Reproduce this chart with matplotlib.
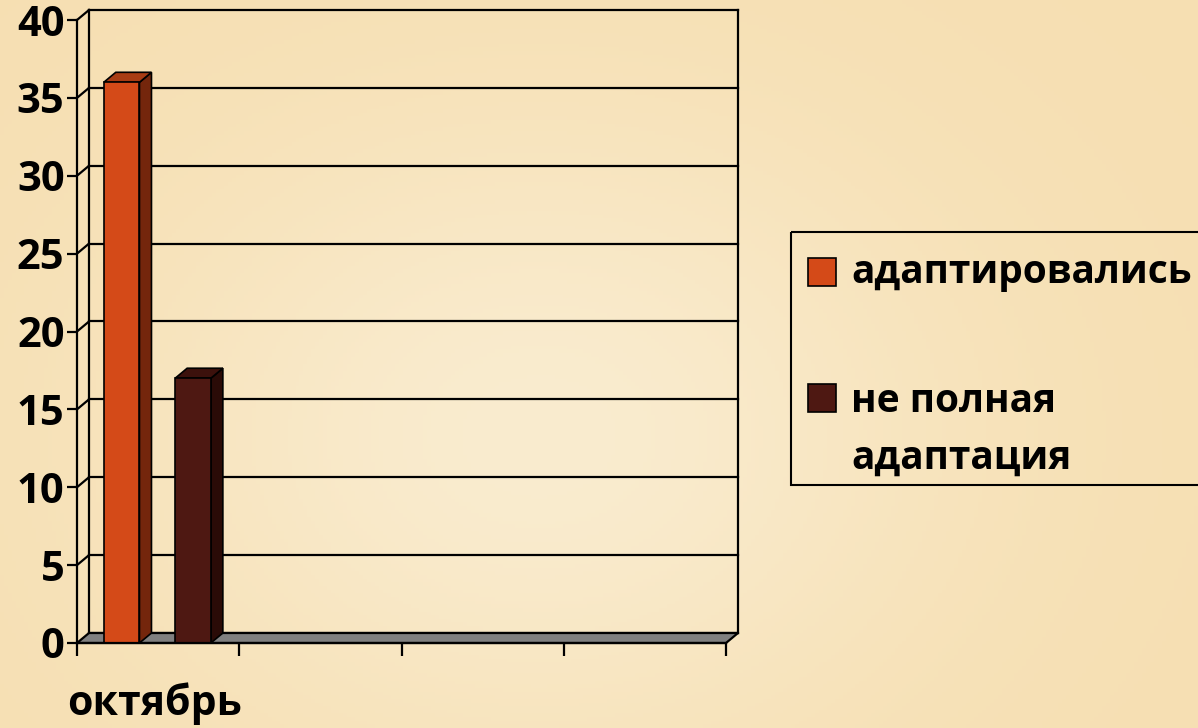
import numpy as np
import matplotlib
matplotlib.use("Agg")
import matplotlib.pyplot as plt
from matplotlib.patches import Polygon, Rectangle

# ---- data ----
categories = ["октябрь", "", "", ""]
series_names = ["адаптировались", "не полная\nадаптация"]
adapted = [36, np.nan, np.nan, np.nan]
partial = [17, np.nan, np.nan, np.nan]
y_ticks = [0, 5, 10, 15, 20, 25, 30, 35, 40]

front_colors = ["#D44A18", "#4E1812"]
side_colors = ["#74260C", "#2A0B07"]
top_colors = ["#A83C14", "#3C110C"]

FONT = ["Open Sans", "DejaVu Sans"]
plt.rcParams["font.family"] = FONT
plt.rcParams["font.weight"] = "bold"

W, H = 1198, 728
fig = plt.figure(figsize=(W / 100, H / 100), dpi=100)
fig.patch.set_facecolor("#F8E3B8")

# subtle background gradient
bg = fig.add_axes([0, 0, 1, 1], zorder=-5)
yy, xx = np.mgrid[0:1:200j, 0:1:300j]
g = np.exp(-((xx - 0.45) ** 2 / 0.12 + (yy - 0.6) ** 2 / 0.2))
base = np.array([0xF6, 0xDF, 0xB2]) / 255
light = np.array([0xFA, 0xEC, 0xCF]) / 255
img = base[None, None, :] * (1 - g[..., None]) + light[None, None, :] * g[..., None]
bg.imshow(img, aspect="auto", extent=[0, 1, 0, 1])
bg.axis("off")

# front plane axes: x 77..726 px, y 643..20 px
x0, x1, yb, yt = 77, 726, 643, 20
ax = fig.add_axes([x0 / W, (H - yb) / H, (x1 - x0) / W, (yb - yt) / H])
ax.set_xlim(0, len(categories))
ax.set_ylim(0, 40)
ax.patch.set_alpha(0)

pxx = (x1 - x0) / len(categories)
pxy = (yb - yt) / 40
DX = 12 / pxx
DY = 10 / pxy
NC = len(categories)
LW = 1.6

# back wall gridlines and left wall diagonals
for v in y_ticks:
    ax.plot([DX, NC + DX], [v + DY, v + DY], color="black", lw=LW, clip_on=False, zorder=1)
    if v > 0:
        ax.plot([0, DX], [v, v + DY], color="black", lw=LW, clip_on=False, zorder=1)
ax.plot([DX, DX], [DY, 40 + DY], color="black", lw=LW, clip_on=False, zorder=1)
ax.plot([NC + DX, NC + DX], [DY, 40 + DY], color="black", lw=LW, clip_on=False, zorder=1)

# floor
floor = Polygon([[0, 0], [NC, 0], [NC + DX, DY], [DX, DY]], closed=True,
                facecolor="#808080", edgecolor="black", lw=LW, clip_on=False, zorder=2)
ax.add_patch(floor)

# bars
bw = 0.22
offsets = [-0.225, 0.215]
for si, vals in enumerate([adapted, partial]):
    for ci, v in enumerate(vals):
        if np.isnan(v):
            continue
        xl = ci + 0.5 + offsets[si] - bw / 2
        xr = xl + bw
        side = Polygon([[xr, 0], [xr + DX, DY], [xr + DX, v + DY], [xr, v]], closed=True,
                       facecolor=side_colors[si], edgecolor="black", lw=1.2, clip_on=False, zorder=3)
        top = Polygon([[xl, v], [xr, v], [xr + DX, v + DY], [xl + DX, v + DY]], closed=True,
                      facecolor=top_colors[si], edgecolor="black", lw=1.2, clip_on=False, zorder=3)
        ax.add_patch(side)
        ax.add_patch(top)
        ax.bar(xl, v, width=bw, align="edge", color=front_colors[si], edgecolor="black",
               lw=1.2, zorder=4, clip_on=False)

# axes styling
for s in ["top", "right"]:
    ax.spines[s].set_visible(False)
ax.spines["bottom"].set_visible(False)
ax.spines["left"].set_linewidth(LW)
ax.plot([0, NC], [0, 0], color="black", lw=LW, clip_on=False, zorder=5)
ax.set_yticks(y_ticks)
ax.set_yticklabels([str(t) for t in y_ticks], fontsize=30, fontweight="bold")
ax.tick_params(axis="y", length=7, width=LW, pad=2)
ax.set_xticks(range(NC + 1))
ax.set_xticklabels([""] * (NC + 1))
ax.tick_params(axis="x", which="major", length=9, width=LW)
ax.set_xticks([i + 0.48 for i in range(NC)], minor=True)
ax.set_xticklabels(categories, minor=True, fontsize=29.5, fontweight="bold")
ax.tick_params(axis="x", which="minor", length=0, pad=28)

# legend (manual, extending past right edge)
lg = fig.add_axes([0, 0, 1, 1], zorder=3)
lg.set_xlim(0, W)
lg.set_ylim(H, 0)
lg.axis("off")
lg.add_patch(Rectangle((791, 232), 420, 253, facecolor="none", edgecolor="black", lw=1.5, clip_on=False))
lg.add_patch(Rectangle((808, 258), 28, 28, facecolor=front_colors[0], edgecolor="black", lw=1.2))
lg.add_patch(Rectangle((808, 384), 28, 28, facecolor=front_colors[1], edgecolor="black", lw=1.2))
lg.text(851, 272, series_names[0], fontsize=28, fontweight="bold", va="center", ha="left")
lg.text(851, 430, series_names[1], fontsize=28, fontweight="bold", va="center", ha="left",
        linespacing=1.6)

fig.savefig("out.png", dpi=100, facecolor=fig.get_facecolor())
